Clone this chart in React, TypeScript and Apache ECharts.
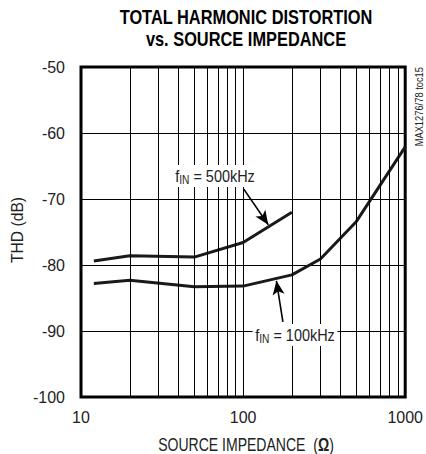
import React, { useEffect, useRef } from "react";
import * as echarts from "echarts";

const impedance100k = [12, 20, 50, 100, 200, 300, 500, 1000];
const thd100k = [-82.8, -82.3, -83.3, -83.2, -81.5, -79.1, -73.4, -62.1];
const impedance500k = [12, 20, 50, 100, 200];
const thd500k = [-79.4, -78.6, -78.8, -76.6, -72.0];
const minorGridX = [20, 30, 40, 50, 60, 70, 80, 90, 200, 300, 400, 500, 600, 700, 800, 900];
const xTicks = [10, 100, 1000];
const yTicks = [-100, -90, -80, -70, -60, -50];
const arrow500k = [[101, -68.5], [143, -73.9]];
const arrow100k = [[176, -88.6], [160.5, -82.4]];

const FONT = "'Liberation Sans', Arial, Helvetica, sans-serif";

export default function App() {
  const ref = useRef<HTMLDivElement>(null);
  useEffect(() => {
    if (!ref.current) return;
    const chart = echarts.init(ref.current, null, { renderer: "svg" });
    const pair = (xs: number[], ys: number[]) => xs.map((x, i) => [x, ys[i]]);
    const arrowStyle = (pts: number[][]) => ({
      silent: true,
      symbol: ["none", "arrow"],
      symbolSize: [9, 14],
      lineStyle: { color: "#000", width: 1.6, type: "solid" },
      label: { show: false },
      emphasis: { disabled: true },
      data: [[{ coord: pts[0] }, { coord: pts[1] }]],
    });
    const fLabel = (text: string, x: number, y: number) => ({
      type: "text",
      x,
      y,
      z: 10,
      scaleX: 0.85,
      style: {
        text,
        align: "center",
        verticalAlign: "middle",
        backgroundColor: "#fff",
        padding: [1, 3],
        rich: {
          f: { fontFamily: FONT, fontSize: 17, lineHeight: 20, fill: "#222" },
          s: { fontFamily: FONT, fontSize: 12, lineHeight: 12, verticalAlign: "bottom", fill: "#222" },
          n: { fontFamily: FONT, fontSize: 17, lineHeight: 20, fill: "#222" },
        },
      },
    });
    chart.setOption({
      animation: false,
      grid: {
        left: 81,
        right: 15,
        top: 67,
        bottom: 57,
        show: true,
        borderColor: "#000",
        borderWidth: 3,
        backgroundColor: "#fff",
      },
      xAxis: {
        type: "log",
        logBase: 10,
        min: xTicks[0],
        max: xTicks[xTicks.length - 1],
        axisLine: { show: false },
        axisTick: { show: false },
        axisLabel: {
          fontFamily: FONT,
          fontSize: 16,
          color: "#222",
          margin: 12,
          formatter: (v: number) => String(Math.round(v)),
        },
        splitLine: { show: true, lineStyle: { color: "#000", width: 1 } },
      },
      yAxis: {
        type: "value",
        min: yTicks[0],
        max: yTicks[yTicks.length - 1],
        interval: 10,
        axisLine: { show: false },
        axisTick: { show: false },
        axisLabel: { fontFamily: FONT, fontSize: 16, color: "#222", margin: 16 },
        splitLine: { show: true, lineStyle: { color: "#000", width: 1 } },
      },
      series: [
        {
          type: "line",
          name: "grid",
          data: [[10, -100]],
          symbol: "none",
          lineStyle: { width: 0 },
          silent: true,
          z: 1,
          markLine: {
            silent: true,
            symbol: ["none", "none"],
            lineStyle: { color: "#000", width: 1, type: "solid" },
            label: { show: false },
            emphasis: { disabled: true },
            data: minorGridX.map((v) => ({ xAxis: v })),
          },
        },
        {
          type: "line",
          name: "fIN = 100kHz",
          data: pair(impedance100k, thd100k),
          symbol: "none",
          lineStyle: { color: "#1a1a1a", width: 3 },
          z: 3,
          markLine: arrowStyle(arrow100k),
        },
        {
          type: "line",
          name: "fIN = 500kHz",
          data: pair(impedance500k, thd500k),
          symbol: "none",
          lineStyle: { color: "#1a1a1a", width: 3 },
          z: 3,
          markLine: arrowStyle(arrow500k),
        },
      ],
      graphic: [
        {
          type: "text",
          x: 246,
          y: 17,
          scaleX: 0.82,
          style: {
            text: "TOTAL HARMONIC DISTORTION",
            fontFamily: FONT,
            fontSize: 20,
            fontWeight: "bold",
            fill: "#000",
            align: "center",
            verticalAlign: "middle",
          },
        },
        {
          type: "text",
          x: 246,
          y: 39,
          scaleX: 0.82,
          style: {
            text: "vs. SOURCE IMPEDANCE",
            fontFamily: FONT,
            fontSize: 20,
            fontWeight: "bold",
            fill: "#000",
            align: "center",
            verticalAlign: "middle",
          },
        },
        {
          type: "text",
          x: 419,
          y: 67,
          rotation: Math.PI / 2,
          scaleX: 0.85,
          style: {
            text: "MAX1276/78 toc15",
            fontFamily: FONT,
            fontSize: 11,
            fill: "#222",
            align: "right",
            verticalAlign: "middle",
          },
        },
        {
          type: "text",
          x: 17,
          y: 230,
          rotation: Math.PI / 2,
          scaleX: 0.95,
          style: {
            text: "THD (dB)",
            fontFamily: FONT,
            fontSize: 16.5,
            fill: "#222",
            align: "center",
            verticalAlign: "middle",
          },
        },
        {
          type: "text",
          x: 246,
          y: 444,
          scaleX: 0.78,
          style: {
            text: "SOURCE IMPEDANCE  ({b|Ω})",
            fontFamily: FONT,
            fontSize: 18,
            fill: "#222",
            align: "center",
            verticalAlign: "middle",
            rich: { b: { fontFamily: FONT, fontSize: 18, fontWeight: "bold", fill: "#222" } },
          },
        },
        fLabel("{f|f}{s|IN}{n| = 500kHz}", 215, 176),
        fLabel("{f|f}{s|IN}{n| = 100kHz}", 295, 335),
      ],
    });
    return () => chart.dispose();
  }, []);
  return (
    <div
      ref={ref}
      style={{ position: "absolute", left: 0, top: 0, width: 426, height: 454 }}
    />
  );
}
